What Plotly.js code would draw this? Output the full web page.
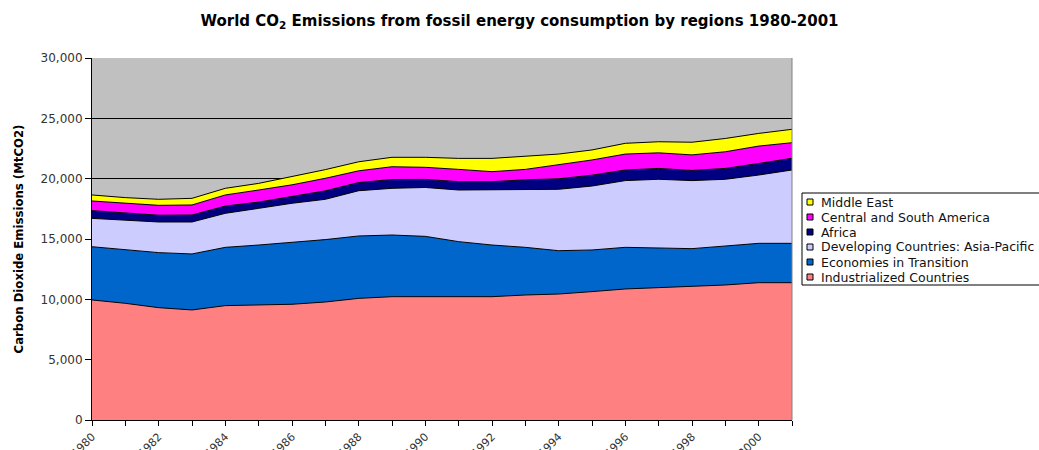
<!DOCTYPE html>
<html>
<head>
<meta charset="utf-8">
<script src="https://cdn.plot.ly/plotly-3.0.1.min.js"></script>
<style>html,body{margin:0;padding:0;background:#fff;}#chart{width:1039px;height:450px;}</style>
</head>
<body>
<div id="chart"></div>
<script>
const years = [1980,1981,1982,1983,1984,1985,1986,1987,1988,1989,1990,1991,1992,1993,1994,1995,1996,1997,1998,1999,2000,2001];
const industrialized = [9950,9670,9310,9120,9480,9530,9590,9780,10080,10220,10220,10220,10220,10360,10440,10640,10860,10970,11050,11190,11380,11380];
const transition = [4410,4420,4560,4640,4830,4970,5110,5170,5170,5110,5000,4560,4280,3950,3590,3450,3450,3310,3150,3230,3260,3260];
const asiaPacific = [2350,2480,2540,2650,2820,3040,3260,3340,3750,3870,4050,4280,4560,4810,5090,5300,5530,5670,5640,5530,5660,6080];
const africa = [640,560,560,580,600,520,560,700,680,730,670,690,690,790,870,900,880,900,840,900,960,970];
const centralSouthAmerica = [800,820,820,830,920,1000,970,1040,970,1060,1000,1020,830,860,1140,1260,1320,1290,1290,1380,1440,1290];
const middleEast = [500,480,500,550,550,550,690,720,750,780,830,910,1100,1110,910,830,890,920,1050,1100,1050,1110];
const seriesNames = ["Industrialized Countries","Economies in Transition","Developing Countries: Asia-Pacific","Africa","Central and South America","Middle East"];
const seriesColors = ["#FF8080","#0066CC","#CCCCFF","#000080","#FF00FF","#FFFF00"];
const tickYears = [1980,1982,1984,1986,1988,1990,1992,1994,1996,1998,2000];

const seriesValues = [industrialized, transition, asiaPacific, africa, centralSouthAmerica, middleEast];
const traces = seriesValues.map((vals, i) => ({
  type: 'scatter',
  mode: 'lines',
  x: years,
  y: vals,
  name: seriesNames[i],
  stackgroup: 'one',
  fillcolor: seriesColors[i],
  line: {color: '#000000', width: 1},
  hoverinfo: 'skip',
  showlegend: false
}));

// plot area geometry (pixels) for the hand-drawn legend box
const W = 1039, H = 450, L = 92, R = 247, T = 58, B = 30;
const pw = W - L - R, ph = H - T - B;
const px = x => (x - L) / pw;
const py = y => (H - B - y) / ph;

const shapes = [
  {type: 'line', xref: 'paper', yref: 'paper', x0: 1, x1: 1, y0: 0, y1: 1, line: {color: '#808080', width: 1}},
  {type: 'rect', xref: 'paper', yref: 'paper', x0: px(802), x1: px(1050), y0: py(193), y1: py(285),
   line: {color: '#000', width: 1}, fillcolor: '#FFFFFF', layer: 'above'}
];
const annotations = [];
const legendOrder = [5, 4, 3, 2, 1, 0];
const rowY = [202, 217, 232, 247, 262, 277];
legendOrder.forEach((si, r) => {
  shapes.push({type: 'rect', xref: 'paper', yref: 'paper',
    x0: px(807), x1: px(813), y0: py(rowY[r] - 3), y1: py(rowY[r] + 3),
    line: {color: '#000', width: 1}, fillcolor: seriesColors[si], layer: 'above'});
  annotations.push({xref: 'paper', yref: 'paper', x: px(819), y: py(rowY[r]),
    xanchor: 'left', yanchor: 'middle', showarrow: false, text: seriesNames[si],
    font: {size: 12.5, family: 'DejaVu Sans, Arial, sans-serif', color: '#111'}});
});

const layout = {
  width: W, height: H,
  margin: {l: L, r: R, t: T, b: B},
  paper_bgcolor: '#FFFFFF',
  plot_bgcolor: '#C0C0C0',
  font: {family: 'DejaVu Sans, Arial, sans-serif', color: '#000'},
  title: {
    text: 'World CO<sub>2</sub> Emissions from fossil energy consumption by regions 1980-2001',
    font: {size: 15, family: 'DejaVu Sans, Arial, sans-serif', color: '#000', weight: 'bold'},
    x: 0.5, xref: 'container', xanchor: 'center', y: 0.955, yref: 'container', yanchor: 'middle'
  },
  showlegend: false,
  xaxis: {
    range: [1980, 2001],
    tickvals: tickYears,
    ticktext: tickYears.map(String),
    tickangle: -45,
    ticks: 'outside', ticklen: 5, tickcolor: '#000',
    minor: {dtick: 1, tick0: 1980, ticks: 'outside', ticklen: 5, tickcolor: '#000', showgrid: false},
    showgrid: false, zeroline: false,
    showline: true, linecolor: '#000', linewidth: 1,
    tickfont: {size: 11, color: '#333'}
  },
  yaxis: {
    range: [0, 30000],
    dtick: 5000,
    tickformat: ',d',
    ticks: 'outside', ticklen: 6, tickcolor: '#000',
    showgrid: true, gridcolor: '#000', gridwidth: 1,
    zeroline: false,
    showline: true, linecolor: '#000', linewidth: 1,
    tickfont: {size: 12, color: '#333'},
    title: {text: 'Carbon Dioxide Emissions (MtCO2)',
      font: {size: 13, family: 'DejaVu Sans Condensed, Liberation Sans Narrow, Arial, sans-serif', color: '#000', weight: 'bold'},
      standoff: 14}
  },
  shapes: shapes,
  annotations: annotations
};

Plotly.newPlot('chart', traces, layout, {displayModeBar: false, staticPlot: true});
</script>
</body>
</html>
